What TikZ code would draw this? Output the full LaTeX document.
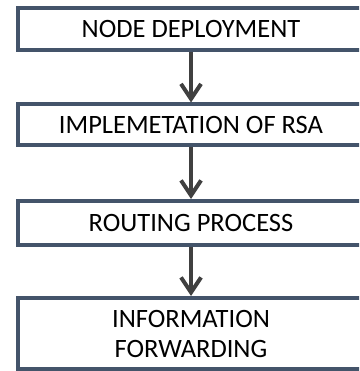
\documentclass[tikz,border=0pt]{standalone}
\usepackage{fontspec}
\setmainfont{Carlito}
\usepackage{tikz}
\usetikzlibrary{arrows.meta, positioning}
\definecolor{rahmen}{RGB}{68,84,106}
\definecolor{pfeil}{RGB}{64,64,64}

\begin{document}
\begin{tikzpicture}[x=1pt, y=1pt,
					box/.style={draw=rahmen, line width=4pt, fill=white, minimum width=346pt, inner sep=0pt, align=center},
					flow/.style={draw=pfeil, line width=4pt, -{Straight Barb[length=15pt, width=20pt, line width=4pt]}},
					font=\fontsize{26.5}{30}\selectfont]
					% Bildbereich
					\useasboundingbox (0,0) rectangle (359,371);
					\clip (0,0) rectangle (359,371);
					% Kaesten
					\node[box, minimum height=42pt] (deploy) at (191,342) {NODE DEPLOYMENT};
					\node[box, minimum height=41pt] (rsa)    at (191,246) {IMPLEMETATION OF RSA};
					\node[box, minimum height=44pt] (route)  at (191,148) {ROUTING PROCESS};
					\node[box, minimum height=71pt] (info)   at (191,37.5) {INFORMATION\\FORWARDING};
					% Pfeile
					\draw[flow] (deploy) -- (rsa);
					\draw[flow] (rsa) -- (route);
					\draw[flow] (route) -- (info);
				\end{tikzpicture}
\end{document}
